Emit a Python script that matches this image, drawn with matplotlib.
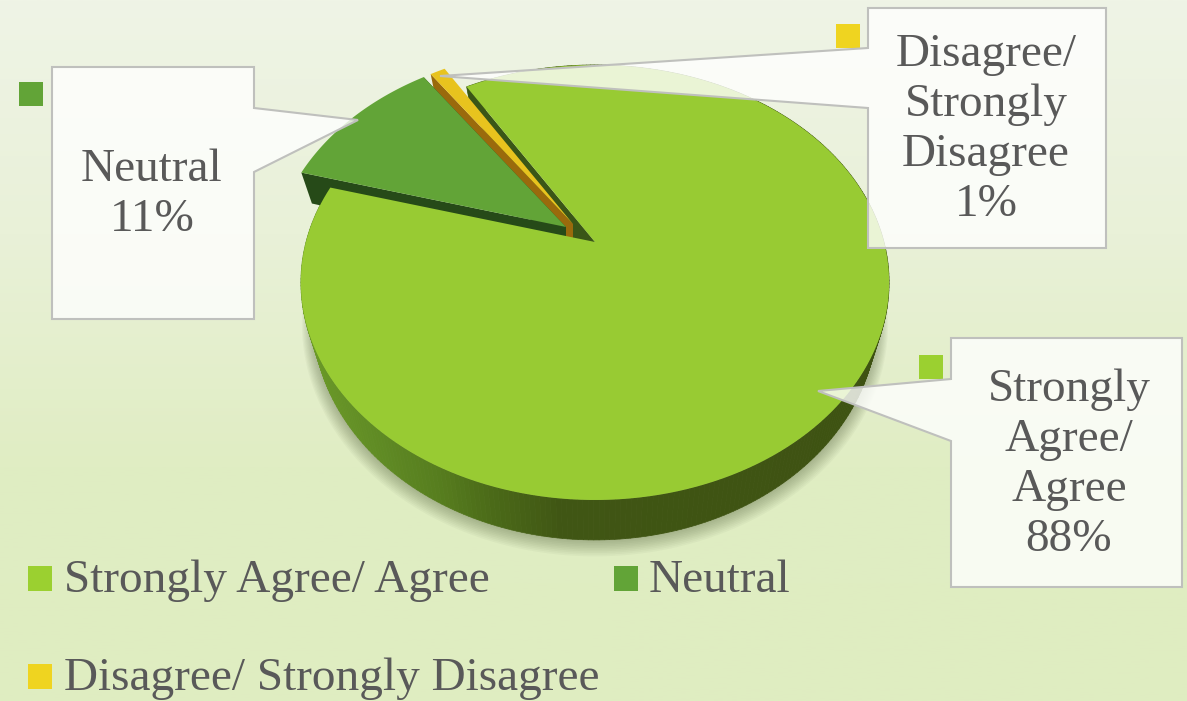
import numpy as np
import matplotlib
matplotlib.use("Agg")
import matplotlib.pyplot as plt
from matplotlib.colors import LinearSegmentedColormap, to_rgb
from matplotlib.collections import PolyCollection
from matplotlib.patches import Polygon, Rectangle

# Chart data
categories = ["Strongly Agree/ Agree", "Neutral", "Disagree/ Strongly Disagree"]
shares = [88, 11, 1]
callouts = ["Strongly\nAgree/\nAgree\n88%", "Neutral\n11%", "Disagree/\nStrongly\nDisagree\n1%"]

TEXT = "#595959"
TOP_COLORS = ["#98cb33", "#62a437", "#e8c31e"]
KEY_COLORS = ["#9bd030", "#62a437", "#efd420"]
START_ANGLE = -31

# pie apex of each slice in pixels, the two small slices are pulled out
APEX = [(595, 242), (566, 227), (573, 224)]
A_Y, B_X, PERSP, DEPTH = 210, 289, 0.186, 32.5

plt.rcParams["font.family"] = ["Liberation Serif", "DejaVu Serif"]


def rim(angles, apex, z=0.0, radius=1.0):
    """Project points of the pie disc to pixels, z=1 is the underside."""
    t = np.radians(angles)
    u = radius * np.sin(t)
    v = -radius * np.cos(t)
    den = 1 - PERSP * v
    x = apex[0] + B_X * u / den * (1 - 0.04 * z)
    y = apex[1] + (A_Y * v + DEPTH * z) / den
    return np.column_stack([x, y])


def radial_wall(angle, apex, color, zorder):
    top = np.vstack([rim(np.array([angle]), apex, 0, 0), rim(np.array([angle]), apex)])
    bottom = np.vstack([rim(np.array([angle]), apex, 1), rim(np.array([angle]), apex, 1, 0)])
    ax.add_patch(Polygon(np.vstack([top, bottom]), closed=True, fc=color, ec="none", zorder=zorder))


def slice_top(a0, a1, apex, color, zorder):
    angles = np.linspace(a0, a1, 200)
    pts = np.vstack([rim(np.array([a0]), apex, 0, 0), rim(angles, apex)])
    ax.add_patch(Polygon(pts, closed=True, fc=color, ec="none", zorder=zorder))


fig = plt.figure(figsize=(11.87, 7.01), dpi=100)
ax = fig.add_axes([0, 0, 1, 1])
ax.set_xlim(0, 1187)
ax.set_ylim(701, 0)
ax.axis("off")

# Background gradient
bg = LinearSegmentedColormap.from_list("bg", ["#eff4e6", "#e9f1d8", "#e0edc3", "#dfedc1"])
ax.imshow(np.linspace(0, 1, 256).reshape(-1, 1), cmap=bg, aspect="auto",
          extent=[0, 1187, 701, 0], zorder=0)

edges = START_ANGLE + np.cumsum([0] + shares) * 3.6
big0, big1 = edges[0], edges[1]
neu0, neu1 = edges[1], edges[2]
yel0, yel1 = edges[2], edges[3]

# Soft shadow under the front of the pie
for grow in np.linspace(11, 1, 10):
    ring = rim(np.linspace(70, 285, 200), APEX[0], 1, 1 + grow / 300)
    ring[:, 1] += grow * 0.4
    ax.add_patch(Polygon(ring, closed=True, fc="#30401a", ec="none", alpha=0.035, zorder=1))

# Outer wall of the big slice, shaded along x
wall_angles = np.linspace(big0, big1, 361)
upper = rim(wall_angles, APEX[0])
lower = rim(wall_angles, APEX[0], 1)
quads = [np.vstack([upper[i], upper[i + 1], lower[i + 1], lower[i]]) for i in range(360)]
stops_x = [300, 380, 440, 490, 560, 900]
stops = np.array([to_rgb(c) for c in ["#6b9a28", "#5f8a24", "#567c1e", "#4b6a18", "#405614", "#3e5212"]])
xs = (upper[:-1, 0] + upper[1:, 0]) / 2
wall_colors = np.column_stack([np.interp(xs, stops_x, stops[:, i]) for i in range(3)])
ax.add_collection(PolyCollection(quads, facecolors=wall_colors, edgecolors=wall_colors, linewidths=0.5, zorder=2))

# Slices back to front
radial_wall(big0, APEX[0], "#3a5617", 3)
radial_wall(yel0, APEX[2], "#9a6a0c", 4)
slice_top(yel0, yel1, APEX[2], TOP_COLORS[2], 5)
radial_wall(neu0, APEX[1], "#264a18", 6)
radial_wall(neu1, APEX[1], "#264a18", 6)
slice_top(neu0, neu1, APEX[1], TOP_COLORS[1], 7)
slice_top(big0, big1, APEX[0], TOP_COLORS[0], 8)

# Callouts: translucent box with a pointer into the slice
boxes = [
    [(951, 338), (1182, 338), (1182, 587), (951, 587), (951, 441), (818, 391), (951, 379)],
    [(52, 67), (254, 67), (254, 108), (358, 120), (254, 172), (254, 319), (52, 319)],
    [(868, 8), (1106, 8), (1106, 248), (868, 248), (868, 108), (440, 76), (868, 48)],
]
text_pos = [(1069, 465), (152, 195), (986, 130)]
key_pos = [(919, 355), (19, 82), (836, 24)]
for i in range(3):
    ax.add_patch(Polygon(boxes[i], closed=True, fc="white", alpha=0.8, ec="none", zorder=9))
    ax.add_patch(Polygon(boxes[i], closed=True, fc="none", ec="#bfc0bd", lw=1.5, zorder=10))
    ax.text(text_pos[i][0], text_pos[i][1], callouts[i], color=TEXT, fontsize=34,
            ha="center", va="center", linespacing=1.23, zorder=11)
    ax.add_patch(Rectangle(key_pos[i], 24, 24, fc=KEY_COLORS[i], ec="none", zorder=8))

# Legend
legend_pos = [(28, 566, 64), (614, 566, 649), (28, 664, 64)]
for i in range(3):
    x, y, tx = legend_pos[i]
    ax.add_patch(Rectangle((x, y), 24, 25, fc=KEY_COLORS[i], ec="none", zorder=3))
    ax.text(tx, y + 15, categories[i], color=TEXT, fontsize=34, ha="left", va="center", zorder=3)

fig.savefig("out.png", dpi=100)
